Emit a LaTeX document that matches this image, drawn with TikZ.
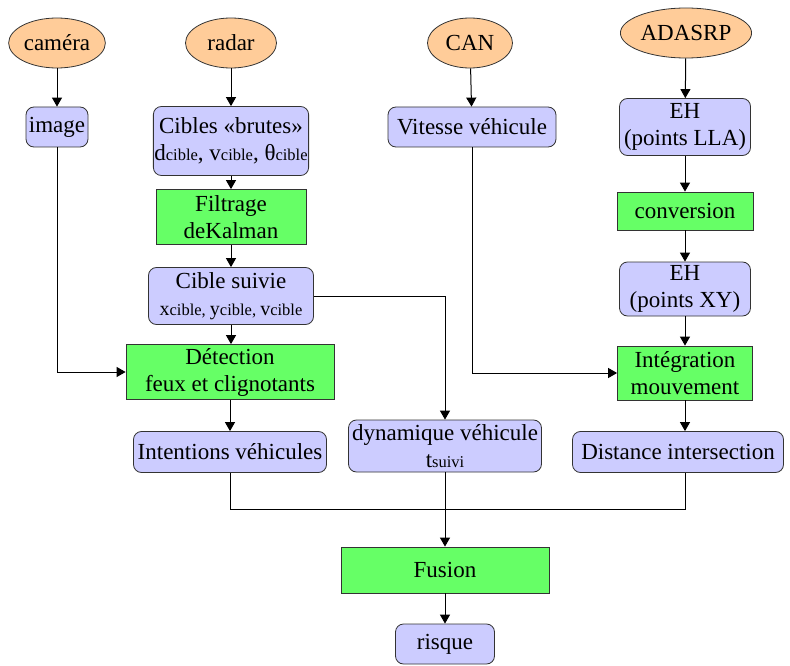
\documentclass[tikz,border=0pt]{standalone}
\usepackage{fontspec}
\setmainfont{Liberation Serif}
\usepackage{tikz}
\usetikzlibrary{arrows.meta,positioning,shapes.geometric}
\definecolor{peach}{HTML}{FFCC99}
\definecolor{lavender}{HTML}{CCCCFF}
\definecolor{lime}{HTML}{66FF66}
\definecolor{edge}{HTML}{333333}
\newcommand{\petit}[1]{{\fontsize{16.5}{18}\selectfont #1}}

\begin{document}
\begin{tikzpicture}[
  x=1pt,y=-1pt,
  every node/.style={font=\fontsize{23}{27}\selectfont,inner sep=1pt,align=center},
  source/.style={ellipse,draw=edge,fill=peach,line width=0.8pt,minimum height=50pt},
  data/.style={draw=edge,fill=lavender,rounded corners=8pt,line width=0.8pt},
  proc/.style={draw=edge,fill=lime,line width=0.8pt},
  arrow/.style={-{Triangle[length=9pt,width=10pt]},line width=1pt}
]
\useasboundingbox (0,0) rectangle (790,666);
% sources
\node[source,minimum width=88pt] (camera) at (57,43) {caméra};
\node[source,minimum width=91pt] (radar) at (231,43) {radar};
\node[source,minimum width=85pt] (can) at (470,43) {CAN};
\node[source,minimum width=108pt] (adasrp) at (686,33) {ADASRP};
% camera and radar columns
\node[data,minimum width=62pt,minimum height=40pt] (image) at (57,127) {image};
\node[data,minimum width=148pt,minimum height=69pt] (brutes) at (231,141) {Cibles «brutes»\\d\petit{cible}, v\petit{cible}, θ\petit{cible}};
\node[proc,minimum width=150pt,minimum height=55pt] (kalman) at (231,217) {Filtrage\\deKalman};
\node[data,minimum width=165pt,minimum height=57pt] (suivie) at (231,296) {Cible suivie\\{\fontsize{20}{22}\selectfont x}\petit{cible, }{\fontsize{20}{22}\selectfont y}\petit{cible, }{\fontsize{20}{22}\selectfont v}\petit{cible}};
\node[proc,minimum width=208pt,minimum height=55pt] (detect) at (230,372) {Détection\\feux et clignotants};
\node[data,minimum width=193pt,minimum height=41pt] (intent) at (230,452) {Intentions véhicules};
\node[data,minimum width=193pt,minimum height=52pt] (dyn) at (445,446) {dynamique véhicule\\t\petit{suivi}};
% CAN column
\node[data,minimum width=168pt,minimum height=40pt] (vitesse) at (472,127) {Vitesse véhicule};
% ADASRP column
\node[data,minimum width=131pt,minimum height=57pt] (lla) at (685,127) {EH\\(points LLA)};
\node[proc,minimum width=136pt,minimum height=38pt] (conv) at (685,211) {conversion};
\node[data,minimum width=131pt,minimum height=54pt] (xy) at (685,289) {EH\\(points XY)};
\node[proc,minimum width=135pt,minimum height=54pt] (integ) at (685,373) {Intégration\\mouvement};
\node[data,minimum width=211pt,minimum height=41pt] (dist) at (678,452) {Distance intersection};
% fusion
\node[proc,minimum width=208pt,minimum height=46pt] (fusion) at (445,570) {Fusion};
\node[data,minimum width=99pt,minimum height=40pt] (risque) at (445,644) {risque};
\coordinate (join) at (445,509);

\draw[arrow] (camera) -- (image);
\draw[arrow] (image.south) |- (detect.west);
\draw[arrow] (radar) -- (brutes);
\draw[arrow] (brutes) -- (kalman);
\draw[arrow] (kalman) -- (suivie);
\draw[arrow] (suivie.south) -- (suivie.south |- detect.north);
\draw[arrow] (detect) -- (intent);
\draw[arrow] (suivie.east) -| (dyn.north);
\draw[arrow] (can) -- (vitesse);
\draw[arrow] (vitesse.south) |- (integ.west);
\draw[arrow] (adasrp) -- (lla);
\draw[arrow] (lla) -- (conv);
\draw[arrow] (conv) -- (xy);
\draw[arrow] (xy) -- (integ);
\draw[arrow] (integ.south) -- (integ.south |- dist.north);
\draw[line width=1pt] (intent.south) |- (join);
\draw[line width=1pt] (integ.south |- dist.south) |- (join);
\draw[arrow] (dyn) -- (fusion);
\draw[arrow] (fusion) -- (risque);
\end{tikzpicture}
\end{document}
